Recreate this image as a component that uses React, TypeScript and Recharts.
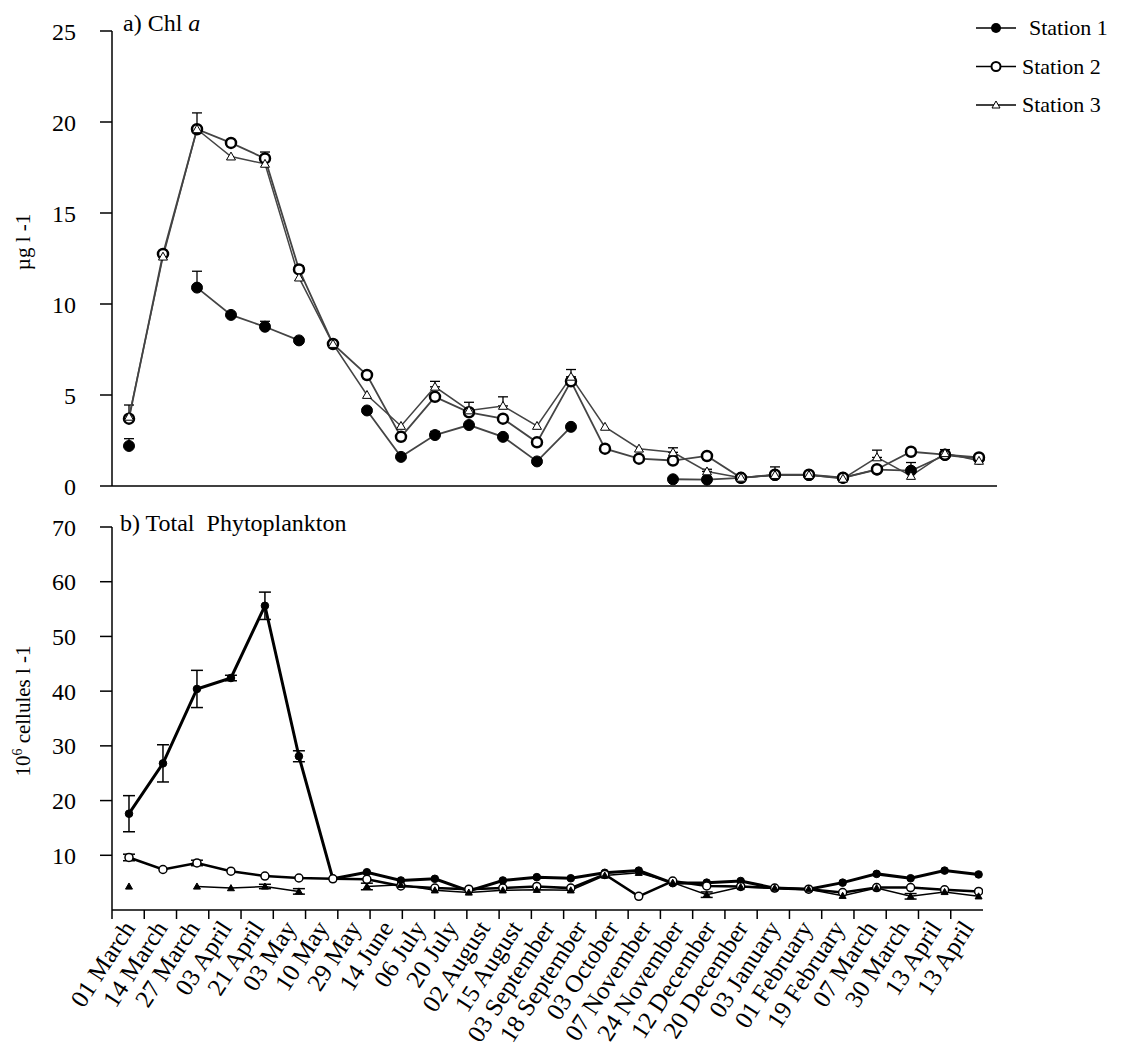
import React from "react";
import { LineChart, Line, XAxis, YAxis, ErrorBar, Legend } from "recharts";

const FONT = "'Liberation Serif', 'Times New Roman', serif";

// x axis tick labels (panel b)
const dates = [
  "01 March", "14 March", "27 March", "03 April", "21 April", "03 May", "10 May", "29 May",
  "14 June", "06 July", "20 July", "02 August", "15 August", "03 September", "18 September",
  "03 October", "07 November", "24 November", "12 December", "20 December", "03 January",
  "01 February", "19 February", "07 March", "30 March", "13 April", "13 April",
];

const stations = ["Station 1", "Station 2", "Station 3"];

// a) Chl a (µg l-1), 26 sampling dates
const chlStation1 = [2.2, null, 10.9, 9.4, 8.75, 8.0, null, 4.15, 1.6, 2.8, 3.35, 2.7, 1.35, 3.25, null, null, 0.37, 0.35, 0.45, 0.6, 0.6, 0.45, 0.9, 0.84, 1.7, 1.5];
const chlStation2 = [3.7, 12.75, 19.6, 18.85, 18.0, 11.9, 7.8, 6.1, 2.7, 4.9, 4.05, 3.7, 2.4, 5.75, 2.05, 1.5, 1.4, 1.65, 0.45, 0.62, 0.62, 0.46, 0.92, 1.88, 1.72, 1.57];
const chlStation3 = [3.8, 12.6, 19.6, 18.1, 17.7, 11.45, 7.8, 5.0, 3.3, 5.45, 4.15, 4.4, 3.3, 6.0, 3.25, 2.05, 1.85, 0.8, 0.45, 0.6, 0.6, 0.4, 1.57, 0.55, 1.8, 1.38];
// upper error bars
const chlErr1 = [0.4, null, 0.9, null, 0.3, null, null, null, null, 0.2, null, null, null, null, null, null, null, null, null, null, null, null, null, 0.45, null, null];
const chlErr2 = [null, null, null, null, 0.35, 0.2, null, null, null, null, null, null, null, null, null, null, null, null, null, null, null, null, null, null, null, null];
const chlErr3 = [0.65, null, 0.9, null, null, null, null, null, null, 0.3, 0.45, 0.5, null, 0.4, null, null, 0.25, 0.12, null, 0.45, null, null, 0.4, null, 0.2, null];

// b) Total phytoplankton (10^6 cellules l-1)
const phytoStation1 = [17.6, 26.8, 40.4, 42.4, 55.6, 28.1, 5.7, 6.9, 5.4, 5.7, 3.5, 5.4, 6.0, 5.8, 6.8, 7.2, 4.9, 5.0, 5.3, 4.0, 3.8, 5.0, 6.6, 5.8, 7.2, 6.5];
const phytoStation2 = [9.6, 7.4, 8.6, 7.1, 6.2, 5.85, 5.7, 5.6, 4.4, 4.0, 3.8, 4.0, 4.3, 4.0, 6.5, 2.5, 5.3, 4.4, 4.3, 4.0, 3.8, 3.2, 4.1, 4.1, 3.7, 3.4];
const phytoStation3 = [4.3, null, 4.3, 4.0, 4.3, 3.4, null, 4.3, 4.6, 3.6, 3.2, 3.6, 3.7, 3.6, 6.3, 6.8, 5.0, 2.8, 4.2, 4.0, 3.8, 2.6, 4.0, 2.5, 3.3, 2.5];
const phytoErr1 = [3.3, 3.4, 3.4, 0.5, 2.5, 1.0, null, null, null, null, null, null, null, null, null, null, null, null, null, null, null, null, null, null, null, null];
const phytoErr2 = [0.6, null, 0.5, null, null, null, null, null, null, null, null, null, null, null, null, null, null, null, null, null, null, null, null, null, null, null];
const phytoErr3 = [null, null, null, null, 0.4, 0.5, null, 0.6, null, null, null, null, null, null, null, null, null, 0.5, null, null, null, null, null, 0.5, null, null];

const up = (e) => (e == null ? null : [0, e]);

const chlData = chlStation1.map((v, i) => ({
  idx: i,
  s1: v, s2: chlStation2[i], s3: chlStation3[i],
  e1: up(chlErr1[i]), e2: up(chlErr2[i]), e3: up(chlErr3[i]),
}));

const phytoData = phytoStation1.map((v, i) => ({
  idx: i,
  s1: v, s2: phytoStation2[i], s3: phytoStation3[i],
  e1: phytoErr1[i], e2: phytoErr2[i], e3: phytoErr3[i],
}));

const tickStyle = { fontFamily: FONT, fontSize: 24, fill: "#000" };
const axisStroke = { stroke: "#000", strokeWidth: 1.5 };

const filledDot = (r) => (props) => {
  const { cx, cy, index } = props;
  if (cx == null || cy == null) return <g key={`f${index}`} />;
  return <circle key={`f${index}`} cx={cx} cy={cy} r={r} fill="#000" stroke="#000" strokeWidth={1} />;
};

const openDot = (r, w) => (props) => {
  const { cx, cy, index } = props;
  if (cx == null || cy == null) return <g key={`o${index}`} />;
  return <circle key={`o${index}`} cx={cx} cy={cy} r={r} fill="#fff" stroke="#000" strokeWidth={w} />;
};

const triDot = (s, fill) => (props) => {
  const { cx, cy, index } = props;
  if (cx == null || cy == null) return <g key={`t${index}`} />;
  const pts = `${cx},${cy - s} ${cx - s},${cy + s * 0.75} ${cx + s},${cy + s * 0.75}`;
  return <polygon key={`t${index}`} points={pts} fill={fill} stroke="#000" strokeWidth={1} />;
};

function DateTick(props) {
  const { x, y, payload, width } = props;
  const half = width / dates.length / 2;
  const label = dates[payload.value];
  const ax = x + 8;
  const ay = y + 18;
  return (
    <g>
      <line x1={x - half} y1={y} x2={x - half} y2={y + 9} stroke="#000" strokeWidth={1.5} />
      <text
        x={ax}
        y={ay}
        textAnchor="end"
        transform={`rotate(-57, ${ax}, ${ay})`}
        style={{ fontFamily: FONT, fontSize: 25 }}
        fill="#000"
      >
        {label}
      </text>
    </g>
  );
}

function ChlLegend() {
  return (
    <svg width={160} height={115} style={{ overflow: "visible" }}>
      {stations.map((name, i) => {
        const y = 18 + i * 38.5;
        return (
          <g key={name}>
            <line x1={6} y1={y} x2={46} y2={y} stroke="#000" strokeWidth={1.3} />
            {i === 0 && <circle cx={26} cy={y} r={5} fill="#000" />}
            {i === 1 && <circle cx={26} cy={y} r={4.5} fill="#fff" stroke="#000" strokeWidth={2} />}
            {i === 2 && (
              <polygon points={`26,${y - 4} 22,${y + 3} 30,${y + 3}`} fill="#fff" stroke="#000" strokeWidth={1} />
            )}
            <text x={i === 0 ? 59 : 52} y={y + 7} style={{ fontFamily: FONT, fontSize: 22 }} fill="#000">
              {name}
            </text>
          </g>
        );
      })}
    </svg>
  );
}

const chlLabel = () => (
  <text x={30} y={242} transform="rotate(-90, 30, 242)" textAnchor="middle" style={{ fontFamily: FONT, fontSize: 21 }} fill="#000">
    µg l -1
  </text>
);

const phytoLabel = () => (
  <text x={30} y={211} transform="rotate(-90, 30, 211)" textAnchor="middle" style={{ fontFamily: FONT, fontSize: 21 }} fill="#000">
    <tspan>10</tspan>
    <tspan dy={-8} fontSize={14}>6</tspan>
    <tspan dy={8}> cellules  l -1</tspan>
  </text>
);

export default function App() {
  return (
    <div style={{ position: "relative", width: 1129, height: 1048, background: "#fff", fontFamily: FONT, overflow: "hidden" }}>
      <style>{`body{margin:0}`}</style>

      <div style={{ position: "absolute", left: 0, top: 0 }}>
        <LineChart width={1129} height={500} data={chlData} margin={{ top: 31, right: 132, bottom: 0, left: 52 }}>
          <XAxis
            dataKey="idx"
            type="number"
            domain={[-0.5, 25.53]}
            allowDataOverflow
            tick={false}
            tickLine={false}
            axisLine={axisStroke}
            height={14}
          />
          <YAxis
            domain={[0, 25]}
            ticks={[0, 5, 10, 15, 20, 25]}
            width={60}
            tickSize={12}
            tickMargin={24}
            tick={tickStyle}
            tickLine={axisStroke}
            axisLine={axisStroke}
            label={chlLabel}
          />
          <Legend
            layout="horizontal"
            align="center"
            verticalAlign="middle"
            wrapperStyle={{ top: 10, left: 970, width: 160 }}
            content={() => <ChlLegend />}
          />
          <Line dataKey="s1" stroke="#444" strokeWidth={1.8} dot={filledDot(5.5)} isAnimationActive={false}>
            <ErrorBar dataKey="e1" direction="y" width={5} stroke="#000" strokeWidth={1.3} />
          </Line>
          <Line dataKey="s2" stroke="#444" strokeWidth={1.8} dot={openDot(5, 2.5)} isAnimationActive={false}>
            <ErrorBar dataKey="e2" direction="y" width={5} stroke="#000" strokeWidth={1.3} />
          </Line>
          <Line dataKey="s3" stroke="#444" strokeWidth={1.5} dot={triDot(4.5, "#fff")} isAnimationActive={false}>
            <ErrorBar dataKey="e3" direction="y" width={5} stroke="#000" strokeWidth={1.3} />
          </Line>
        </LineChart>
      </div>
      <div style={{ position: "absolute", left: 123, top: 11, fontSize: 24, lineHeight: 1 }}>
        a) Chl <i>a</i>
      </div>

      <div style={{ position: "absolute", left: 0, top: 500 }}>
        <LineChart width={1129} height={548} data={phytoData} margin={{ top: 27, right: 146, bottom: 8, left: 52 }}>
          <XAxis
            xAxisId="lab"
            dataKey="idx"
            type="number"
            domain={[-0.5, 26.5]}
            allowDataOverflow
            ticks={dates.map((_, i) => i)}
            interval={0}
            tickSize={0}
            tickMargin={0}
            tickLine={false}
            axisLine={axisStroke}
            tick={<DateTick />}
            height={130}
          />
          <XAxis xAxisId="pts" dataKey="idx" type="number" domain={[-0.5, 25.13]} allowDataOverflow hide height={0} />
          <YAxis
            domain={[0, 70]}
            ticks={[10, 20, 30, 40, 50, 60, 70]}
            width={60}
            tickSize={12}
            tickMargin={24}
            tick={tickStyle}
            tickLine={axisStroke}
            axisLine={axisStroke}
            label={phytoLabel}
          />
          <Line xAxisId="pts" dataKey="s1" stroke="#000" strokeWidth={3} dot={filledDot(3.8)} isAnimationActive={false}>
            <ErrorBar dataKey="e1" direction="y" width={6} stroke="#000" strokeWidth={1.5} />
          </Line>
          <Line xAxisId="pts" dataKey="s2" stroke="#000" strokeWidth={2.5} dot={openDot(4, 1.5)} isAnimationActive={false}>
            <ErrorBar dataKey="e2" direction="y" width={6} stroke="#000" strokeWidth={1.5} />
          </Line>
          <Line xAxisId="pts" dataKey="s3" stroke="#000" strokeWidth={1.5} dot={triDot(3.5, "#000")} isAnimationActive={false}>
            <ErrorBar dataKey="e3" direction="y" width={6} stroke="#000" strokeWidth={1.5} />
          </Line>
        </LineChart>
      </div>
      <div style={{ position: "absolute", left: 120, top: 511, fontSize: 24, lineHeight: 1 }}>
        b) Total&nbsp; Phytoplankton
      </div>
    </div>
  );
}
